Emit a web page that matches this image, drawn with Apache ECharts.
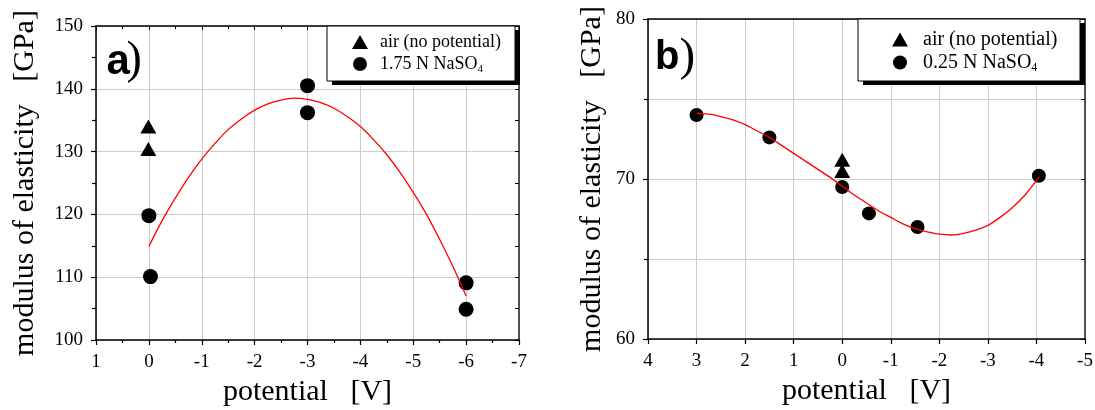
<!DOCTYPE html>
<html>
<head>
<meta charset="utf-8">
<script src="https://cdn.jsdelivr.net/npm/echarts@6/dist/echarts.min.js"></script>
<style>
html,body{margin:0;padding:0;background:#fff;}
#c{width:1095px;height:410px;}
</style>
</head>
<body>
<div id="c"></div>
<script>
// ---- Panel a) data ----
const aXTicks = [1, 0, -1, -2, -3, -4, -5, -6, -7];
const aAirX = [0.01, 0.01];
const aAirY = [134.0, 130.4];
const aSolX = [0, -0.03, -3, -3, -6, -6];
const aSolY = [119.8, 110.1, 140.5, 136.2, 109.1, 104.9];
// red fitted curve
const aFitX = [0, -0.25, -0.5, -0.75, -1, -1.25, -1.5, -1.75, -2, -2.25, -2.5, -2.75, -3,
               -3.25, -3.5, -3.75, -4, -4.25, -4.5, -4.75, -5, -5.25, -5.5, -5.75, -6];
const aFitY = [114.9, 119.0, 122.6, 125.9, 128.8, 131.3, 133.5, 135.2, 136.6, 137.6, 138.2, 138.5, 138.3,
               137.8, 136.9, 135.6, 134.0, 131.9, 129.5, 126.7, 123.5, 120.0, 116.0, 111.7, 107.0];

// ---- Panel b) data ----
const bXTicks = [4, 3, 2, 1, 0, -1, -2, -3, -4, -5];
const bAirX = [0, 0];
const bAirY = [71.2, 70.5];
const bSolX = [3, 1.5, 0, -0.55, -1.55, -4.05];
const bSolY = [74.0, 72.6, 69.5, 67.85, 67.0, 70.2];
const bFitX = [3, 2.75, 2.5, 2.25, 2, 1.75, 1.5, 1.25, 1, 0.75, 0.5, 0.25, 0,
               -0.25, -0.5, -0.75, -1, -1.25, -1.5, -1.75, -2, -2.25, -2.5, -2.75, -3,
               -3.25, -3.5, -3.75, -4.05];
const bFitY = [74.1, 74.05, 73.9, 73.7, 73.4, 73.0, 72.6, 72.1, 71.6, 71.1, 70.6, 70.1, 69.55,
               69.0, 68.5, 68.0, 67.6, 67.2, 66.9, 66.7, 66.55, 66.5, 66.6, 66.8, 67.1,
               67.6, 68.2, 68.95, 70.1];

const AIR = 'air (no potential)';
const SOL_A = '1.75 N NaSO4';
const SOL_B = '0.25 N NaSO4';

const zip = (xs, ys) => xs.map((x, i) => [x, ys[i]]);
const SERIF = 'Liberation Serif';

function mainX(gi, min, max, minor) {
  return {
    gridIndex: gi, type: 'value', min: min, max: max, interval: 1, inverse: true,
    position: 'bottom',
    name: 'potential   [V]', nameLocation: 'middle', nameGap: 37, nameMoveOverlap: false,
    nameTextStyle: { fontFamily: SERIF, fontSize: 30, color: '#000' },
    axisLine: { show: true, onZero: false, lineStyle: { color: '#000', width: 1.5 } },
    axisTick: { show: true, inside: false, length: 5, lineStyle: { color: '#000', width: 1.2 } },
    minorTick: { show: minor, splitNumber: 2, length: 3, lineStyle: { color: '#000', width: 1.2 } },
    axisLabel: { fontFamily: SERIF, fontSize: 19, color: '#000', margin: 13 },
    splitLine: { show: true, lineStyle: { color: '#cccccc', width: 1 } }
  };
}
function topX(gi, min, max, minor) {
  return {
    gridIndex: gi, type: 'value', min: min, max: max, interval: 1, inverse: true,
    position: 'top',
    axisLine: { show: true, onZero: false, lineStyle: { color: '#000', width: 1.5 } },
    axisTick: { show: minor, inside: true, length: 4, lineStyle: { color: '#000', width: 1 } },
    minorTick: { show: minor, splitNumber: 2, length: 3, lineStyle: { color: '#000', width: 1 } },
    axisLabel: { show: false },
    splitLine: { show: false }
  };
}
function mainY(gi, min, max, interval, minorSplit, gap) {
  return {
    gridIndex: gi, type: 'value', min: min, max: max, interval: interval,
    position: 'left',
    name: 'modulus of elasticity   [GPa]', nameLocation: 'middle', nameGap: gap, nameMoveOverlap: false,
    nameTextStyle: { fontFamily: SERIF, fontSize: 30, color: '#000' },
    axisLine: { show: true, onZero: false, lineStyle: { color: '#000', width: 1.5 } },
    axisTick: { show: true, inside: false, length: 5, lineStyle: { color: '#000', width: 1.2 } },
    minorTick: { show: true, splitNumber: 2, length: 4, lineStyle: { color: '#000', width: 1.2 } },
    axisLabel: { fontFamily: SERIF, fontSize: 19, color: '#000', margin: 13 },
    splitLine: { show: true, lineStyle: { color: '#cccccc', width: 1 } },
    minorSplitLine: { show: minorSplit, lineStyle: { color: '#cccccc', width: 1 } }
  };
}
function rightY(gi, min, max, interval) {
  return {
    gridIndex: gi, type: 'value', min: min, max: max, interval: interval,
    position: 'right',
    axisLine: { show: true, onZero: false, lineStyle: { color: '#222', width: 1.5 } },
    axisTick: { show: true, inside: true, length: 4, lineStyle: { color: '#000', width: 1 } },
    minorTick: { show: true, splitNumber: 2, length: 4, lineStyle: { color: '#000', width: 1 } },
    axisLabel: { show: false },
    splitLine: { show: false }
  };
}
function legendFmt(name) {
  if (name.endsWith('NaSO4')) {
    return '{t|' + name.slice(0, -1) + '}{s|4}';
  }
  return '{t|' + name + '}';
}
function makeLegend(left, top, names, fs, lh, pad, tgap) {
  return {
    orient: 'vertical', left: left, top: top, data: names, z: 20,
    itemWidth: 16, itemHeight: 14, itemGap: 0,
    padding: pad,
    backgroundColor: 'transparent', borderWidth: 0,
    selectedMode: false,
    formatter: legendFmt,
    textStyle: {
      fontFamily: SERIF, fontSize: fs, color: '#000', lineHeight: lh,
      rich: {
        t: { fontFamily: SERIF, fontSize: fs, color: '#000', lineHeight: lh, padding: [0, 0, 0, tgap] },
        s: { fontFamily: SERIF, fontSize: Math.round(fs * 0.6), color: '#000', lineHeight: 6, verticalAlign: 'bottom' }
      }
    }
  };
}
function legendBox(x, y, w, h) {
  return [
    { type: 'rect', z: 10, shape: { x: x + 5, y: y + 4, width: w, height: h }, style: { fill: '#000' } },
    { type: 'rect', z: 11, shape: { x: x, y: y, width: w, height: h }, style: { fill: '#fff', stroke: '#000', lineWidth: 1 } }
  ];
}

const chart = echarts.init(document.getElementById('c'), null, { renderer: 'canvas' });
chart.setOption({
  backgroundColor: '#fff',
  animation: false,
  grid: [
    { left: 96, top: 26, width: 423, height: 314, outerBoundsMode: 'none' },
    { left: 648, top: 19, width: 437, height: 320, outerBoundsMode: 'none' }
  ],
  xAxis: [
    mainX(0, aXTicks[aXTicks.length - 1], aXTicks[0], true),
    mainX(1, bXTicks[bXTicks.length - 1], bXTicks[0], false),
    topX(0, aXTicks[aXTicks.length - 1], aXTicks[0], true),
    topX(1, bXTicks[bXTicks.length - 1], bXTicks[0], false)
  ],
  yAxis: [
    mainY(0, 100, 150, 10, false, 56),
    mainY(1, 60, 80, 10, true, 41),
    rightY(0, 100, 150, 10),
    rightY(1, 60, 80, 10)
  ],
  legend: [
    makeLegend(327, 26, [AIR, SOL_A], 18, 22, [5, 15, 6, 25], 7),
    makeLegend(858, 19, [AIR, SOL_B], 20, 23, [9, 20, 7, 34], 10)
  ],
  graphic: [].concat(
    legendBox(327, 26, 188, 55),
    legendBox(858, 19, 222, 62),
    [
      { type: 'text', style: { text: 'a', x: 106.5, y: 62, font: 'bold 42px "Liberation Sans"', fill: '#000', verticalAlign: 'middle' } },
      { type: 'text', style: { text: ')', x: 126.5, y: 61, font: '46px "Liberation Serif"', fill: '#000', verticalAlign: 'middle' } },
      { type: 'text', style: { text: 'b', x: 655, y: 58, font: 'bold 40px "Liberation Sans"', fill: '#000', verticalAlign: 'middle' } },
      { type: 'text', style: { text: ')', x: 679.5, y: 58, font: '47px "Liberation Serif"', fill: '#000', verticalAlign: 'middle' } }
    ]
  ),
  series: [
    { name: AIR, type: 'scatter', xAxisIndex: 0, yAxisIndex: 0, symbol: 'triangle', symbolSize: [16, 14],
      itemStyle: { color: '#000', opacity: 1 }, data: zip(aAirX, aAirY), z: 3 },
    { name: SOL_A, type: 'scatter', xAxisIndex: 0, yAxisIndex: 0, symbol: 'circle', symbolSize: 15,
      itemStyle: { color: '#000', opacity: 1 }, data: zip(aSolX, aSolY), z: 3 },
    { name: 'fit a', type: 'line', xAxisIndex: 0, yAxisIndex: 0, smooth: 0.3, showSymbol: false,
      lineStyle: { color: '#ff0000', width: 1.3 }, data: zip(aFitX, aFitY), z: 4 },
    { name: AIR, type: 'scatter', xAxisIndex: 1, yAxisIndex: 1, symbol: 'triangle', symbolSize: [16, 14],
      itemStyle: { color: '#000', opacity: 1 }, data: zip(bAirX, bAirY), z: 3 },
    { name: SOL_B, type: 'scatter', xAxisIndex: 1, yAxisIndex: 1, symbol: 'circle', symbolSize: 14,
      itemStyle: { color: '#000', opacity: 1 }, data: zip(bSolX, bSolY), z: 3 },
    { name: 'fit b', type: 'line', xAxisIndex: 1, yAxisIndex: 1, smooth: 0.3, showSymbol: false,
      lineStyle: { color: '#ff0000', width: 1.3 }, data: zip(bFitX, bFitY), z: 4 }
  ]
});
</script>
</body>
</html>
